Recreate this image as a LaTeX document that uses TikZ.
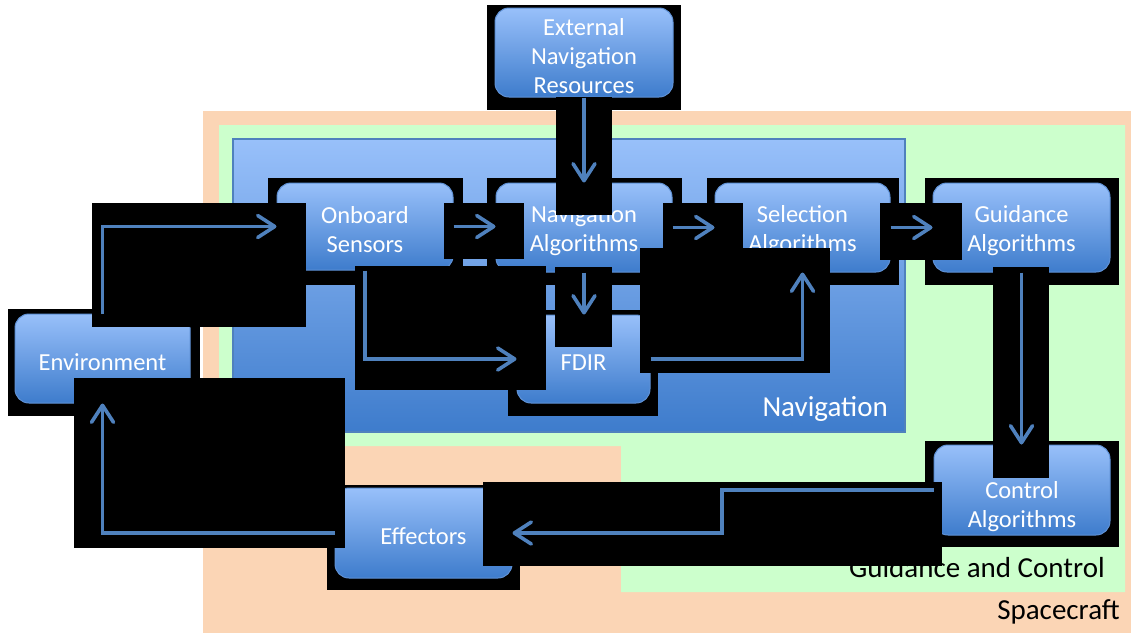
\documentclass[tikz,border=0pt]{standalone}
\usepackage{fontspec}
\setmainfont{Carlito}
\usetikzlibrary{arrows.meta}
\definecolor{orangebg}{RGB}{251,213,181}
\definecolor{greenbg}{RGB}{204,255,204}
\definecolor{bluetop}{RGB}{152,192,250}
\definecolor{bluebot}{RGB}{62,124,204}
\definecolor{blueedge}{RGB}{79,129,189}
\definecolor{nodeedge}{RGB}{96,146,214}
\definecolor{arrowc}{RGB}{79,129,189}
\tikzset{
  blockbox/.style={rounded corners=14pt, top color=bluetop, bottom color=bluebot,
    draw=nodeedge, line width=1pt, inner sep=0pt},
  nodetext/.style={inner sep=0pt, align=center, text=white, font=\fontsize{24.5}{29}\selectfont, yshift=-3.5pt},
  shadowbox/.style={fill=black},
  conn/.style={draw=arrowc, line width=3.6pt, -{Straight Barb[length=17pt,width=22pt,round]}},
  grouplabel/.style={inner sep=0pt, anchor=base east, font=\fontsize{29}{34}\selectfont}
}
\begin{document}
\begin{tikzpicture}[x=1pt,y=-1pt]
\useasboundingbox (0,0) rectangle (1131,633);
% group backgrounds
\fill[orangebg] (203,111) rectangle (1131,633);
\fill[greenbg] (219,125) -- (1125,125) -- (1125,592) -- (621,592) -- (621,446) -- (219,446) -- cycle;
\shade[top color=bluetop, bottom color=bluebot, draw=blueedge, line width=1.2pt] (233,139) rectangle (905,432);
% group labels
\node[grouplabel, text=white] (navlabel) at (888,416) {Navigation};
\node[grouplabel, text=black] (gclabel) at (1105,577) {Guidance and Control};
\node[grouplabel, text=black] (sclabel) at (1120,619) {Spacecraft};
% node frames
\fill[shadowbox] (487,5) rectangle (681,110);
\fill[shadowbox] (268,178) rectangle (463,285);
\fill[shadowbox] (487,178) rectangle (682,285);
\fill[shadowbox] (707,178) rectangle (899,285);
\fill[shadowbox] (925,178) rectangle (1119,285);
\fill[shadowbox] (508,310) rectangle (658,416);
\fill[shadowbox] (8,309) rectangle (200,416);
\fill[shadowbox] (925,441) rectangle (1119,547);
\fill[shadowbox] (327,485) rectangle (520,590);
% nodes
\node[blockbox, minimum width=178pt, minimum height=89pt,
  label={[nodetext]center:{External\\Navigation\\Resources}}] (ext) at (584,52.5) {};
\node[blockbox, minimum width=176pt, minimum height=87pt,
  label={[nodetext]center:{Onboard\\Sensors}}] (onb) at (365,226.5) {};
\node[blockbox, minimum width=176pt, minimum height=89pt,
  label={[nodetext]center:{Navigation\\Algorithms}}] (nav) at (584,227.5) {};
\node[blockbox, minimum width=175pt, minimum height=89pt,
  label={[nodetext]center:{Selection\\Algorithms}}] (sel) at (802.5,227.5) {};
\node[blockbox, minimum width=177pt, minimum height=89pt,
  label={[nodetext]center:{Guidance\\Algorithms}}] (gui) at (1021.5,227.5) {};
\node[blockbox, minimum width=133pt, minimum height=88pt,
  label={[nodetext]center:{FDIR}}] (fdir) at (583.5,359) {};
\node[blockbox, minimum width=175pt, minimum height=89pt,
  label={[nodetext]center:{Environment}}] (env) at (102.5,358.5) {};
\node[blockbox, minimum width=176pt, minimum height=90pt,
  label={[nodetext, yshift=-13.5pt]center:{Control\\Algorithms}}] (ctl) at (1022,490) {};
\node[blockbox, minimum width=177pt, minimum height=90pt,
  label={[nodetext]center:{Effectors}}] (eff) at (423.5,533) {};
% connector boxes
\fill[shadowbox] (92,203) rectangle (306,327);
\fill[shadowbox] (444,203) rectangle (524,259);
\fill[shadowbox] (663,203) rectangle (743,259);
\fill[shadowbox] (880,203) rectangle (962,260);
\fill[shadowbox] (556,97) rectangle (612,215);
\fill[shadowbox] (555,267) rectangle (612,347);
\fill[shadowbox] (355,266) rectangle (546,390);
\fill[shadowbox] (640,248) rectangle (830,373);
\fill[shadowbox] (993,267) rectangle (1049,478);
\fill[shadowbox] (483,482) rectangle (942,566);
\fill[shadowbox] (74,378) rectangle (345,548);
% connectors
\coordinate (cbend) at (722,490);
\draw[conn] (env.north) |- (onb.west);
\draw[conn] (onb.east) -- (onb.east -| nav.west);
\draw[conn] (nav.east) -- (sel.west);
\draw[conn] (sel.east) -- (gui.west);
\draw[conn] (ext.south) -- (nav.north);
\draw[conn] (nav.south) -- (nav.south |- fdir.north);
\draw[conn] (onb.south) |- (fdir.west);
\draw[conn] (fdir.east) -| (sel.south);
\draw[conn] (gui.south) -- (gui.south |- ctl.north);
\draw[conn] (ctl.west) -- (cbend) |- (eff.east);
\draw[conn] (eff.west) -| (env.south);
\end{tikzpicture}
\end{document}
